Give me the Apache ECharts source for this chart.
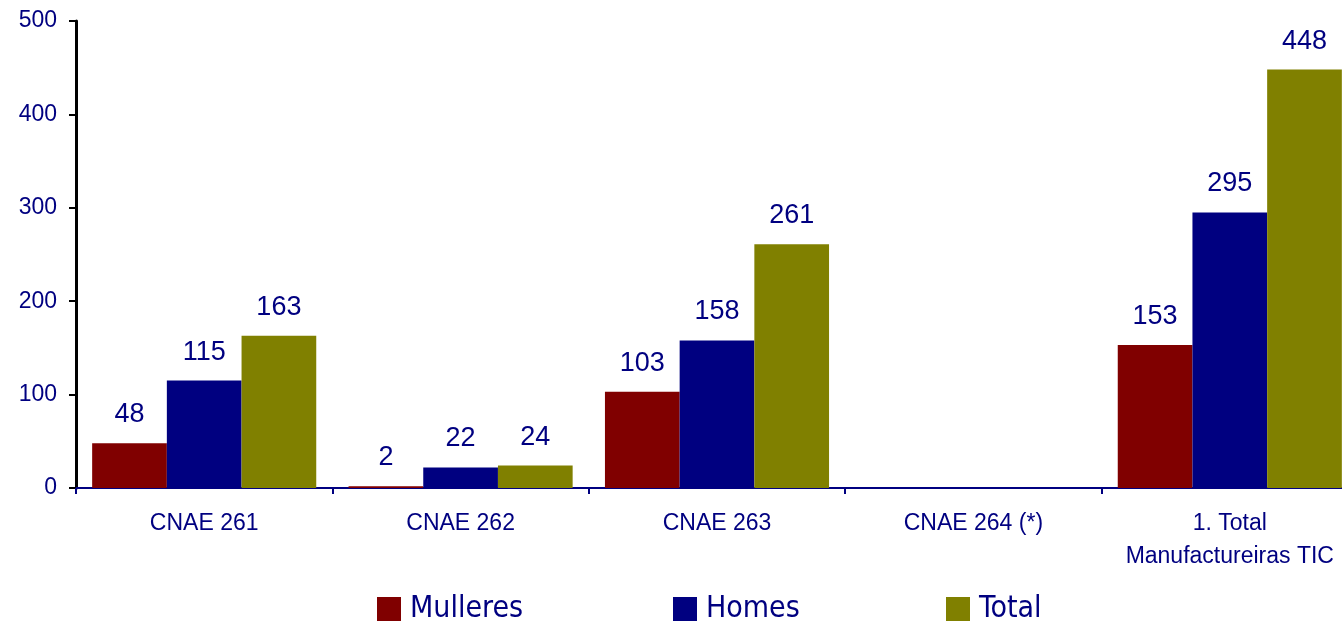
<!DOCTYPE html>
<html>
<head>
<meta charset="utf-8">
<script src="https://cdn.jsdelivr.net/npm/echarts@6/dist/echarts.min.js"></script>
<style>
html,body{margin:0;padding:0;background:#fff;overflow:hidden;}
#chart{width:1358px;height:623px;}
</style>
</head>
<body>
<div id="chart"></div>
<script>
var categories = ['CNAE 261', 'CNAE 262', 'CNAE 263', 'CNAE 264 (*)', '1. Total\nManufactureiras TIC'];
var mulleres = [48, 2, 103, null, 153];
var homes = [115, 22, 158, null, 295];
var total = [163, 24, 261, null, 448];
var yTicks = [0, 100, 200, 300, 400, 500];

var navy = '#000080';
var labelFont = 'Liberation Sans, Arial, sans-serif';
var legendFont = 'DejaVu Sans Condensed, DejaVu Sans, sans-serif';

function barSeries(name, data, color) {
  return {
    name: name,
    type: 'bar',
    data: data,
    barGap: '0%',
    barCategoryGap: '12.6%',
    itemStyle: { color: color },
    label: {
      show: true,
      position: 'top',
      distance: 15,
      color: navy,
      fontFamily: labelFont,
      fontSize: 27
    }
  };
}

function legendAt(name, left) {
  return {
    data: [name],
    left: left,
    top: 594,
    padding: 0,
    orient: 'horizontal',
    icon: 'rect',
    itemWidth: 24,
    itemHeight: 24,
    itemGap: 0,
    selectedMode: false,
    textStyle: {
      color: navy,
      fontFamily: legendFont,
      fontSize: 30,
      padding: [0, 0, 0, 4]
    }
  };
}

var chart = echarts.init(document.getElementById('chart'), null, { renderer: 'canvas' });
chart.setOption({
  animation: false,
  backgroundColor: '#ffffff',
  grid: { left: 76, top: 21, width: 1282, height: 467, containLabel: false },
  legend: [
    legendAt('Mulleres', 377),
    legendAt('Homes', 673),
    legendAt('Total', 946)
  ],
  xAxis: {
    type: 'category',
    data: categories,
    axisLine: { show: true, lineStyle: { color: navy, width: 2 } },
    axisTick: { show: true, alignWithLabel: false, length: 6, lineStyle: { color: navy, width: 2 } },
    axisLabel: {
      color: navy,
      fontFamily: labelFont,
      fontSize: 23,
      margin: 19,
      lineHeight: 33,
      interval: 0
    },
    splitLine: { show: false }
  },
  yAxis: {
    type: 'value',
    min: yTicks[0],
    max: yTicks[yTicks.length - 1],
    interval: 100,
    axisLine: { show: true, lineStyle: { color: '#000000', width: 3 } },
    axisTick: { show: true, length: 7, lineStyle: { color: '#000000', width: 2 } },
    axisLabel: {
      color: navy,
      fontFamily: labelFont,
      fontSize: 23,
      margin: 19
    },
    splitLine: { show: false }
  },
  series: [
    barSeries('Mulleres', mulleres, '#800000'),
    barSeries('Homes', homes, '#000080'),
    barSeries('Total', total, '#808000')
  ]
});
</script>
</body>
</html>
